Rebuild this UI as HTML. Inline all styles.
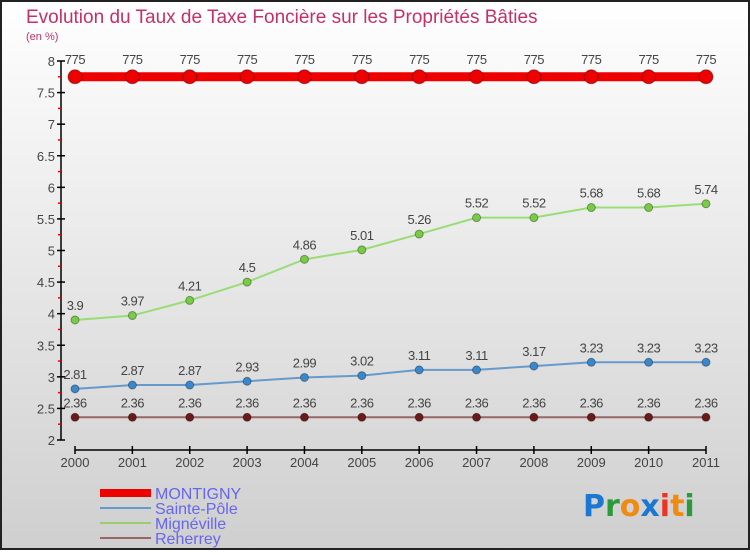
<!DOCTYPE html>
<html><head><meta charset="utf-8"><style>
html,body{margin:0;padding:0}
body{width:750px;height:550px;overflow:hidden;font-family:"Liberation Sans",sans-serif}
</style></head><body>
<svg id="c" width="750" height="550" xmlns="http://www.w3.org/2000/svg">
<defs><linearGradient id="bg" x1="0" y1="0" x2="0" y2="1"><stop offset="0" stop-color="#ffffff"/><stop offset="1" stop-color="#cfcfcf"/></linearGradient></defs>
<rect x="1" y="1" width="748" height="548" fill="url(#bg)" stroke="#222" stroke-width="2"/>
<text x="26" y="23" font-size="19" fill="#c4306a">Evolution du Taux de Taxe Foncière sur les Propriétés Bâties</text>
<text x="26" y="40" font-size="11" fill="#c4306a">(en %)</text>
<g id="plot"></g>
<g>
<rect x="100" y="489" width="51" height="8" fill="#ee0000"/>
<text x="155" y="499" font-size="16" fill="#6666ee">MONTIGNY</text>
<line x1="100" y1="508" x2="151" y2="508" stroke="#6699cc" stroke-width="2"/>
<text x="155" y="514" font-size="16" fill="#6666ee">Sainte-Pôle</text>
<line x1="100" y1="523" x2="151" y2="523" stroke="#99cc77" stroke-width="2"/>
<text x="155" y="529" font-size="16" fill="#6666ee">Mignéville</text>
<line x1="100" y1="538" x2="151" y2="538" stroke="#996666" stroke-width="2"/>
<text x="155" y="544" font-size="16" fill="#6666ee">Reherrey</text>
</g>
<g font-size="30" font-weight="bold" font-family="'DejaVu Sans',sans-serif">
<text x="583" y="516"><tspan fill="#1a77d2">P</tspan><tspan fill="#2a9a3a">r</tspan><tspan fill="#f08a10">o</tspan><tspan fill="#1a77d2">x</tspan><tspan fill="#ee3322">i</tspan><tspan fill="#f08a10">t</tspan><tspan fill="#2a9a3a">i</tspan></text>
</g>
</svg>
<script>
const years=[2000,2001,2002,2003,2004,2005,2006,2007,2008,2009,2010,2011];
const montigny=[7.75,7.75,7.75,7.75,7.75,7.75,7.75,7.75,7.75,7.75,7.75,7.75];
const saintePole=[2.81,2.87,2.87,2.93,2.99,3.02,3.11,3.11,3.17,3.23,3.23,3.23];
const migneville=[3.9,3.97,4.21,4.5,4.86,5.01,5.26,5.52,5.52,5.68,5.68,5.74];
const reherrey=[2.36,2.36,2.36,2.36,2.36,2.36,2.36,2.36,2.36,2.36,2.36,2.36];
const yTicks=[2,2.5,3,3.5,4,4.5,5,5.5,6,6.5,7,7.5,8];
const yMin=2,yMax=8,pxTop=61,pxBot=440,x0=75,x1=706;
const NS="http://www.w3.org/2000/svg";
const g=document.getElementById('plot');
function X(i){return x0+(x1-x0)*i/(years.length-1);}
function Y(v){return pxBot-(v-yMin)/(yMax-yMin)*(pxBot-pxTop);}
function mk(t,a){const e=document.createElementNS(NS,t);for(const k in a)e.setAttribute(k,a[k]);g.appendChild(e);return e;}
function fmt(v){return String(v).replace(/\./,'.');}
// axes
let e=mk('line',{x1:61,y1:pxTop,x2:61,y2:pxBot,stroke:'#000','stroke-width':1.5});


yTicks.forEach((t,i)=>{
 let l=mk('line',{x1:57,y1:Y(t),x2:65,y2:Y(t),stroke:'#000','stroke-width':1.5});
 
 
 let tx=mk('text',{x:55,y:Y(t)+5,'text-anchor':'end','font-size':13,fill:'#444'});
 tx.textContent=fmt(t);
 
 
 if(i<yTicks.length-1){
  let m=mk('line',{x1:58,y1:Y(t+0.25),x2:61,y2:Y(t+0.25),stroke:'#e00','stroke-width':1.5});
  
  
 }
});
e=mk('line',{x1:x0,y1:450,x2:x1,y2:450,stroke:'#000','stroke-width':1.5});


years.forEach((y,i)=>{
 let l=mk('line',{x1:X(i),y1:446,x2:X(i),y2:454,stroke:'#000','stroke-width':1.5});
 
 
 let tx=mk('text',{x:X(i),y:467,'text-anchor':'middle','font-size':13,fill:'#444'});
 tx.textContent=y;
 
 
});
function series(name,vals,color,lw,r,dotColor){
 const pts=vals.map((v,i)=>X(i)+','+Y(v)).join(' ');
 let p=mk('polyline',{points:pts,fill:'none',stroke:color,'stroke-width':lw});
 
 
 vals.forEach((v,i)=>{
  let c=mk('circle',{cx:X(i),cy:Y(v),r:r,fill:dotColor,stroke:'rgba(0,0,0,0.35)','stroke-width':1});
  
  
  let t=mk('text',{x:X(i),y:Y(v)-r-6,'text-anchor':'middle','font-size':13,fill:'#444','letter-spacing':'-0.5'});
  t.textContent=String(v).replace('.',(v>=7?'':'.'));
  
  
 });
}
series('reherrey',reherrey,'#996666',2,4,'#6b1a1a');
series('sainte-pole',saintePole,'#6699cc',2,4,'#3a88cc');
series('migneville',migneville,'#99dd77',2,4,'#77cc44');
series('montigny',montigny,'#ee0000',9,7,'#ee0000');
</script>
</body></html>
